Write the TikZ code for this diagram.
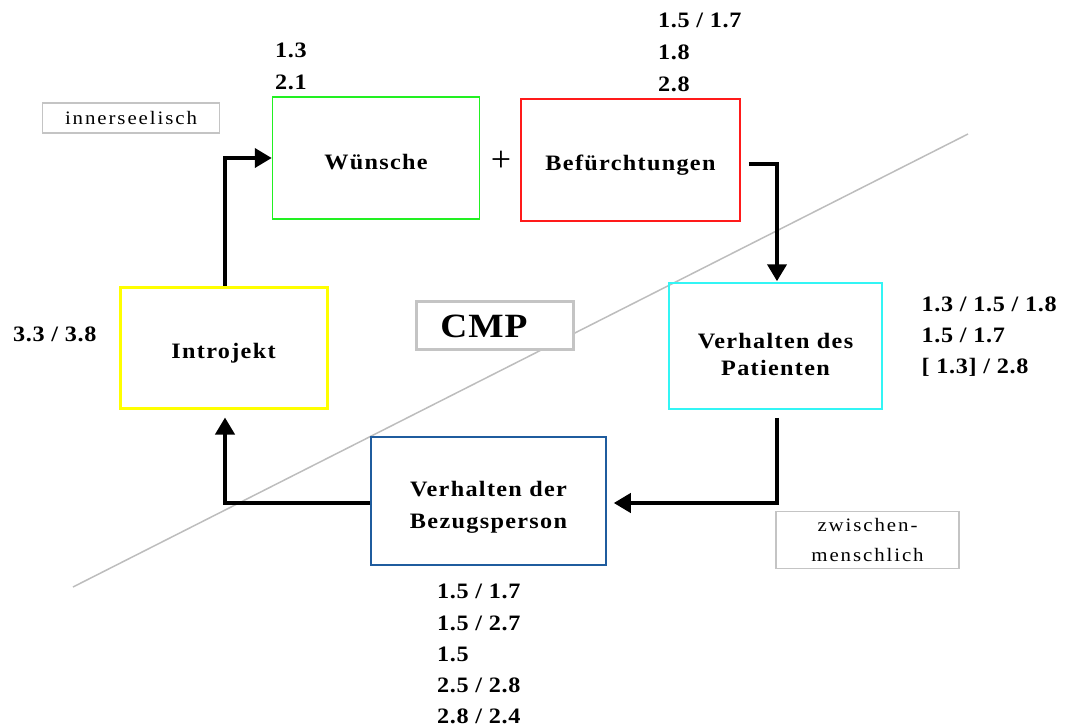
\documentclass[tikz,border=0pt]{standalone}
\usepackage{fontspec}
\setmainfont{Liberation Serif}
\newfontfamily\lblfont[FakeStretch=1.1,LetterSpace=6]{Liberation Serif}
\newfontfamily\numfont[FakeStretch=1.1,LetterSpace=3]{Liberation Serif}
\newfontfamily\tagfont[FakeStretch=1.1,LetterSpace=10]{Liberation Serif}
\usetikzlibrary{arrows.meta}

\definecolor{wunschgreen}{HTML}{22F022}
\definecolor{angstred}{HTML}{FF1A1A}
\definecolor{patcyan}{HTML}{33F5F5}
\definecolor{introyellow}{HTML}{FFFF00}
\definecolor{bezugblue}{HTML}{1F5C9E}
\definecolor{framegray}{HTML}{C4C4C4}
\definecolor{linegray}{HTML}{BDBDBD}

\begin{document}
\begin{tikzpicture}[x=1pt,y=-1pt,
  box/.style={draw, line width=1.5pt, inner sep=0pt},
  lbl/.style={align=center, inner sep=0pt,
    font=\lblfont\bfseries\fontsize{22}{27}\selectfont},
  num/.style={anchor=base west, inner sep=0pt,
    font=\numfont\bfseries\fontsize{22}{24}\selectfont},
  tagbox/.style={draw=framegray, line width=1.5pt, inner sep=0pt, align=center,
    font=\tagfont\fontsize{19}{30}\selectfont},
  flow/.style={line width=4pt, -{Triangle[length=17pt,width=19pt]}}
]
\useasboundingbox (0,0) rectangle (1076,726);

% boundary between the inner-psychic and the interpersonal field
\coordinate (d1) at (73,587);
\coordinate (d2) at (968,134);
\draw[linegray, line width=1.5pt] (d1) -- (d2);

% the five stations of the cycle
\node[box, draw=wunschgreen, minimum width=207, minimum height=122] (wun) at (376,158) {};
\node[box, draw=angstred, minimum width=219, minimum height=122] (bef) at (630.5,160) {};
\node[box, draw=patcyan, minimum width=213, minimum height=126] (pat) at (775.5,346) {};
\node[box, draw=bezugblue, minimum width=235, minimum height=128] (bez) at (488.5,501) {};
\node[box, draw=introyellow, line width=3pt, minimum width=207, minimum height=121] (intro) at (223.5,347.5) {};

\node[lbl] (wuntext) at ([yshift=-4pt]wun.center) {Wünsche};
\node[lbl] (beftext) at ([yshift=-5pt]bef.center) {Befürchtungen};
\node[lbl] (pattext) at ([yshift=-8pt]pat.center) {Verhalten des\\Patienten};
\node[lbl] (beztext) at ([yshift=-6pt]bez.center) {Verhalten der\\[5pt]Bezugsperson};
\node[lbl] (introtext) at ([yshift=-6pt]intro.center) {Introjekt};

\node[font=\fontsize{36}{36}\selectfont, inner sep=0pt] (plus) at (501,161) {+};

% central label on the boundary line
\node[draw=framegray, fill=white, line width=3pt, minimum width=157, minimum height=48, inner sep=0pt] (cmp) at (494.6,325) {};
\node[inner sep=0pt, font=\numfont\bfseries\fontsize{34}{34}\selectfont] (cmptext) at (484,326) {CMP};

% field labels
\node[tagbox, minimum width=177, minimum height=30] (inner) at (131,118) {innerseelisch};
\node[tagbox, minimum width=183, minimum height=57] (zwischen) at (867.5,540) {zwischen-\\menschlich};

% cycle arrows
\draw[flow] ([xshift=1.5pt]intro.north) |- (wun.west);
\draw[flow] ([xshift=8pt,yshift=-4pt]bef.east) -| ([xshift=1.5pt,yshift=1pt]pat.north);
\draw[flow] ([xshift=1.5pt,yshift=-8pt]pat.south) |- ([xshift=7pt,yshift=-2pt]bez.east);
\draw[flow] ([yshift=-2pt]bez.west) -| ([xshift=1.5pt,yshift=-8pt]intro.south);

% item numbers
\node[num] (w1) at (275,57) {1.3};
\node[num] (w2) at (275,89) {2.1};
\node[num] (b1) at (658,27) {1.5 / 1.7};
\node[num] (b2) at (658,59.5) {1.8};
\node[num] (b3) at (658,91) {2.8};
\node[num] (p1) at (921.5,311.5) {1.3 / 1.5 / 1.8};
\node[num] (p2) at (921.5,342.5) {1.5 / 1.7};
\node[num] (p3) at (921.5,373) {[ 1.3] / 2.8};
\node[num] (i1) at (13,341.5) {3.3 / 3.8};
\node[num] (z1) at (437,598) {1.5 / 1.7};
\node[num] (z2) at (437,630) {1.5 / 2.7};
\node[num] (z3) at (437,661.5) {1.5};
\node[num] (z4) at (437,692) {2.5 / 2.8};
\node[num] (z5) at (437,723) {2.8 / 2.4};
\end{tikzpicture}
\end{document}
